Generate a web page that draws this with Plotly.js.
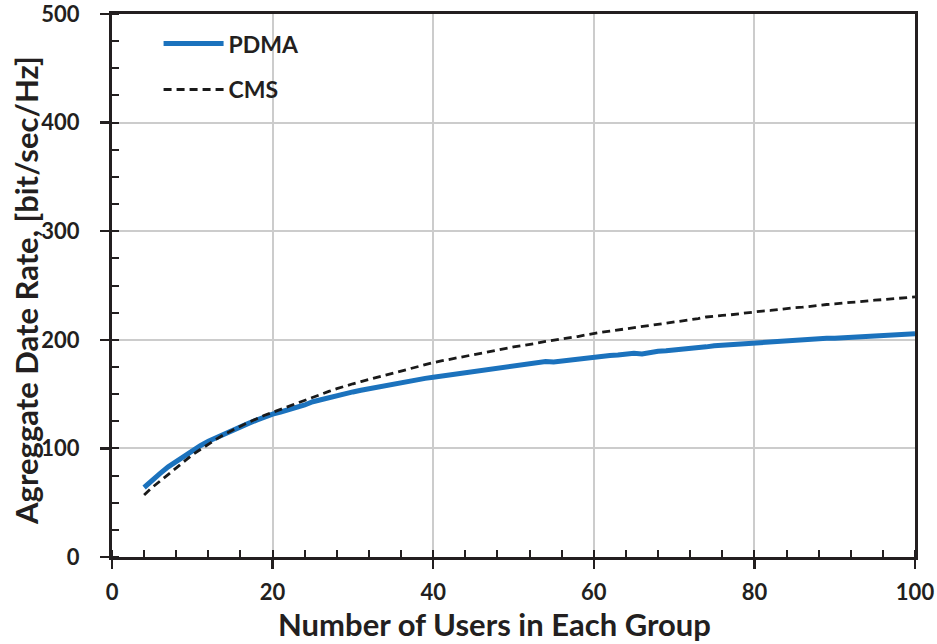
<!DOCTYPE html>
<html>
<head>
<meta charset="utf-8">
<script src="https://cdn.plot.ly/plotly-3.0.1.min.js"></script>
<style>html,body{margin:0;padding:0;background:#fff;}#chart{width:937px;height:644px;}</style>
</head>
<body>
<div id="chart"></div>
<script>
const users = [];
for (let u = 4; u <= 100; u++) users.push(u);

const pdma = [64,71,77,83,88,93.5,98.5,102.5,106.5,110,113.5,117,120,123,126,129,131.5,133.5,135.5,137.5,140,143,145,147,148.5,150,152,153.5,155,156.5,158,159,160,162,163,164.5,165.5,166.5,167.5,169,170.5,171.5,172.5,173.5,174.5,175,176,177,178,179.5,180,179.5,180.5,181.5,182.5,183.5,184.5,185,185.5,186,187,187.5,187,188.5,189.5,190,190.5,191,191.5,193,193.5,194.5,195,195.5,196,197,198,197.5,198,198.5,199,199.5,200,200.5,201,201.5,201.5,202,202.5,202.5,203,203.5,204,204.5,205,205,205.5];

const cms = [57,64,70,76,82,88.5,94,99,104,108.5,113,117,120.5,124,127.5,130.5,133.2,136,139,142,144.5,147.5,150,152.5,155,157.5,159.5,161.5,163.5,165.5,167.5,169.5,171,173,175,177,179,180.5,182,183.5,185,186.5,188,189.5,191,192,193.5,194.5,195.5,197,198.5,199.5,200.5,201.5,203,204.5,206,207,208,209,210,211,212,213,214,215,216,217,218,219.5,221,222,222.5,223,224,225,226,226.5,227,228,229,229.5,230,231,232,232.5,233,234,234.5,235,236,236.5,237,237.5,238,239,239.5];

const seriesNames = ["PDMA", "CMS"];
const xTitle = "Number of Users in Each Group";
const yTitle = "Agreggate Date Rate, [bit/sec/Hz]";

const FONT = "Lato, 'Open Sans', sans-serif";
const INK = "#231f20";

const traces = [
  {x: users, y: pdma, name: seriesNames[0], mode: "lines", legendgroup: "a",
   line: {color: "#1b72bd", width: 5}},
  {x: users, y: cms, name: seriesNames[1], mode: "lines", legendgroup: "b",
   line: {color: "#1a1a1a", width: 2.8, dash: "8px,5px"}}
];

const axisCommon = {
  showline: true, linecolor: INK, linewidth: 3, mirror: true,
  showgrid: true, gridcolor: "#cccccc", gridwidth: 2,
  zeroline: false, automargin: false, ticklabeloverflow: "allow",
  ticks: "outside", ticklen: 9, tickwidth: 2.5, tickcolor: INK,
  tickfont: {family: FONT, size: 22, color: INK, weight: "bold"}
};

const layout = {
  width: 937, height: 644,
  margin: {l: 112, r: 22, t: 14, b: 87},
  paper_bgcolor: "#fff", plot_bgcolor: "#fff",
  font: {family: FONT, color: INK},
  showlegend: true,
  legend: {x: 0.058, y: 0.985, xanchor: "left", yanchor: "top",
           bgcolor: "rgba(0,0,0,0)",
           font: {family: FONT, size: 23, color: INK, weight: "bold"},
           tracegroupgap: 13, itemwidth: 60},
  xaxis: Object.assign({}, axisCommon, {
    range: [0, 100], dtick: 20, tick0: 0, ticklabelstandoff: 5,
    minor: {ticks: "inside", dtick: 4, ticklen: 7, tickwidth: 2, tickcolor: INK, showgrid: false}
  }),
  yaxis: Object.assign({}, axisCommon, {
    range: [0, 500], dtick: 100, tick0: 0, ticksuffix: "\u00a0\u00a0\u00a0",
    minor: {ticks: "inside", dtick: 25, ticklen: 7, tickwidth: 2, tickcolor: INK, showgrid: false}
  }),
  annotations: [
    {text: xTitle, xref: "paper", yref: "paper",
     x: 0.4763, y: -0.123, xanchor: "center", yanchor: "middle",
     showarrow: false,
     font: {family: FONT, size: 31, color: INK, weight: "bold"}},
    {text: yTitle, xref: "paper", yref: "paper", textangle: -90,
     x: -0.107, y: 0.49, xanchor: "center", yanchor: "middle",
     showarrow: false,
     font: {family: FONT, size: 31, color: INK, weight: "bold"}}
  ]
};

Plotly.newPlot("chart", traces, layout, {displayModeBar: false, staticPlot: true});
</script>
</body>
</html>
